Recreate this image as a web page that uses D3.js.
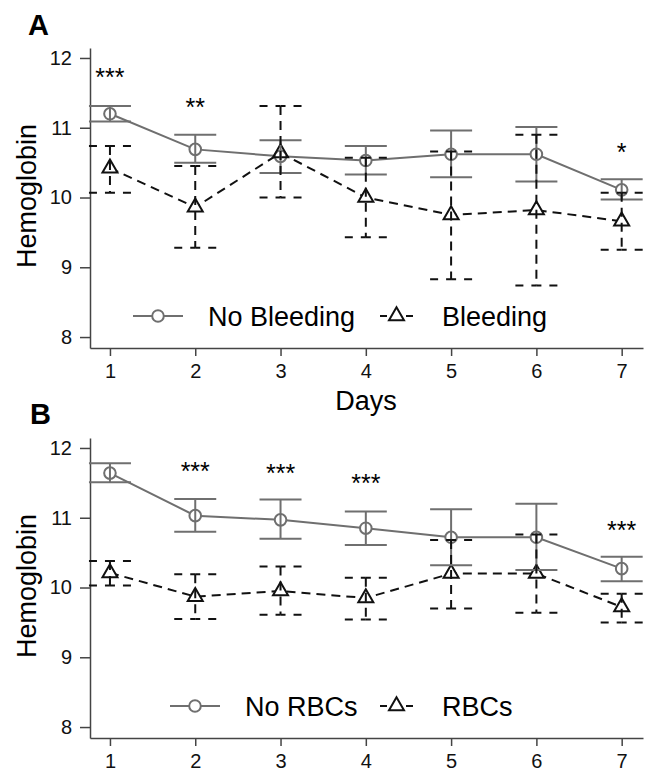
<!DOCTYPE html>
<html>
<head>
<meta charset="utf-8">
<script src="https://cdn.jsdelivr.net/npm/d3@7"></script>
<style>
  body { margin: 0; background: #fff; }
  text { font-family: "Liberation Sans", Arial, Helvetica, sans-serif; }
</style>
</head>
<body>
<svg></svg>
<script>
// values
const days = [1, 2, 3, 4, 5, 6, 7];
const yTicks = [8, 9, 10, 11, 12];

// panel A
const noBleedMean = [11.20, 10.69, 10.59, 10.53, 10.62, 10.62, 10.11];
const noBleedLo   = [11.09, 10.50, 10.35, 10.33, 10.29, 10.23, 9.97];
const noBleedHi   = [11.31, 10.90, 10.82, 10.74, 10.96, 11.01, 10.26];
const bleedMean   = [10.42, 9.86, 10.64, 10.00, 9.75, 9.82, 9.66];
const bleedLo     = [10.07, 9.28, 10.00, 9.43, 8.83, 8.74, 9.25];
const bleedHi     = [10.74, 10.45, 11.31, 10.57, 10.66, 10.90, 10.07];
const sigA        = ["***", "**", "", "", "", "", "*"];
const sigAy       = [11.80, 11.38, null, null, null, null, 10.73];

// panel B
const noRbcMean = [11.64, 11.03, 10.97, 10.85, 10.72, 10.72, 10.27];
const noRbcLo   = [11.51, 10.80, 10.70, 10.61, 10.32, 10.25, 10.09];
const noRbcHi   = [11.78, 11.27, 11.26, 11.09, 11.12, 11.20, 10.44];
const rbcMean   = [10.21, 9.87, 9.95, 9.85, 10.20, 10.20, 9.72];
const rbcLo     = [10.03, 9.55, 9.61, 9.54, 9.70, 9.64, 9.50];
const rbcHi     = [10.38, 10.19, 10.30, 10.14, 10.68, 10.76, 9.91];
const sigB      = ["", "***", "***", "***", "", "", "***"];
const sigBy     = [null, 11.75, 11.72, 11.57, null, null, 10.91];

function main() {
    const width = 647;
    const height = 772;
    const gray = "#6f6f6f";
    const black = "#111";
    const plotH = 300;
    const capW = 21;

    const svg = d3.select("svg")
        .attr("width", width)
        .attr("height", height);

    const x = d3.scaleLinear().domain([0.766, 7.25]).range([90, 643]);

    function triPath(cx, cy) {
        return `M${cx},${cy - 8.7}L${cx + 7.5},${cy + 4.3}L${cx - 7.5},${cy + 4.3}Z`;
    }

    const panels = [
        {
            letter: "A", letterX: 28, letterY: 35, top: 48,
            s1: {mean: noBleedMean, lo: noBleedLo, hi: noBleedHi, name: "No Bleeding"},
            s2: {mean: bleedMean, lo: bleedLo, hi: bleedHi, name: "Bleeding"},
            sig: sigA, sigY: sigAy, key1: 133, title: true
        },
        {
            letter: "B", letterX: 30, letterY: 424, top: 438,
            s1: {mean: noRbcMean, lo: noRbcLo, hi: noRbcHi, name: "No RBCs"},
            s2: {mean: rbcMean, lo: rbcLo, hi: rbcHi, name: "RBCs"},
            sig: sigB, sigY: sigBy, key1: 170, title: false
        }
    ];

    panels.forEach(p => {
        const y = d3.scaleLinear().domain([7.843, 12.143]).range([p.top + plotH, p.top]);
        const g = svg.append("g");

        // axes
        const yAxis = g.append("g")
            .attr("transform", "translate(90,0)")
            .call(d3.axisLeft(y).tickValues(yTicks).tickFormat(d3.format("d"))
                .tickSize(10).tickSizeOuter(0).tickPadding(8));
        const xAxis = g.append("g")
            .attr("transform", `translate(0,${p.top + plotH})`)
            .call(d3.axisBottom(x).tickValues(days).tickFormat(d3.format("d"))
                .tickSize(8).tickSizeOuter(0).tickPadding(8));
        [yAxis, xAxis].forEach(a => {
            a.selectAll("path, line").attr("stroke", "#444").attr("stroke-width", 1.5);
            a.selectAll("text").attr("font-size", 20).attr("fill", "#111");
        });

        // panel letter
        g.append("text")
            .attr("x", p.letterX).attr("y", p.letterY)
            .attr("font-size", 29).attr("font-weight", "bold")
            .text(p.letter);

        // y label
        g.append("text")
            .attr("transform", `translate(36,${p.top + 148}) rotate(-90)`)
            .attr("text-anchor", "middle")
            .attr("font-size", 27)
            .text("Hemoglobin");

        if (p.title) {
            g.append("text")
                .attr("x", 366).attr("y", p.top + 362)
                .attr("text-anchor", "middle")
                .attr("font-size", 27)
                .text("Days");
        }

        const line = d3.line().x((d, i) => x(days[i])).y(d => y(d));

        // connecting lines
        g.append("path").datum(p.s1.mean)
            .attr("d", line).attr("fill", "none")
            .attr("stroke", gray).attr("stroke-width", 2);
        g.append("path").datum(p.s2.mean)
            .attr("d", line).attr("fill", "none")
            .attr("stroke", black).attr("stroke-width", 2)
            .attr("stroke-dasharray", "9,6");

        // marker backgrounds, then outlines
        g.selectAll(null).data(p.s1.mean).enter().append("circle")
            .attr("cx", (d, i) => x(days[i])).attr("cy", d => y(d))
            .attr("r", 5.8).attr("fill", "#fff");
        g.selectAll(null).data(p.s2.mean).enter().append("path")
            .attr("d", (d, i) => triPath(x(days[i]), y(d)))
            .attr("fill", "#fff");
        g.selectAll(null).data(p.s1.mean).enter().append("circle")
            .attr("cx", (d, i) => x(days[i])).attr("cy", d => y(d))
            .attr("r", 5.8).attr("fill", "none")
            .attr("stroke", gray).attr("stroke-width", 2);
        g.selectAll(null).data(p.s2.mean).enter().append("path")
            .attr("d", (d, i) => triPath(x(days[i]), y(d)))
            .attr("fill", "none")
            .attr("stroke", black).attr("stroke-width", 2);

        // error bars, solid gray
        days.forEach((day, i) => {
            const cx = x(day);
            g.append("line")
                .attr("x1", cx).attr("x2", cx)
                .attr("y1", y(p.s1.hi[i])).attr("y2", y(p.s1.lo[i]))
                .attr("stroke", gray).attr("stroke-width", 2);
            [p.s1.hi[i], p.s1.lo[i]].forEach(v => {
                g.append("line")
                    .attr("x1", cx - capW).attr("x2", cx + capW)
                    .attr("y1", y(v)).attr("y2", y(v))
                    .attr("stroke", gray).attr("stroke-width", 2);
            });
        });

        // error bars, dashed black
        days.forEach((day, i) => {
            const cx = x(day);
            g.append("line")
                .attr("x1", cx).attr("x2", cx)
                .attr("y1", y(p.s2.hi[i])).attr("y2", y(p.s2.lo[i]))
                .attr("stroke", black).attr("stroke-width", 2)
                .attr("stroke-dasharray", "9,6");
            [p.s2.hi[i], p.s2.lo[i]].forEach(v => {
                [-1, 1].forEach(side => {
                    g.append("line")
                        .attr("x1", cx).attr("x2", cx + side * capW)
                        .attr("y1", y(v)).attr("y2", y(v))
                        .attr("stroke", black).attr("stroke-width", 2)
                        .attr("stroke-dasharray", "5,8,8,30");
                });
            });
        });

        // significance stars
        p.sig.forEach((s, i) => {
            if (!s) return;
            g.append("text")
                .attr("x", x(days[i])).attr("y", y(p.sigY[i]))
                .attr("dy", "0.58em")
                .attr("text-anchor", "middle")
                .attr("font-size", 25)
                .text(s);
        });

        // legend
        const ly = p.top + 268;
        const lt = p.top + 278;
        g.append("line")
            .attr("x1", p.key1).attr("x2", p.key1 + 50)
            .attr("y1", ly).attr("y2", ly)
            .attr("stroke", gray).attr("stroke-width", 2);
        g.append("circle")
            .attr("cx", p.key1 + 25).attr("cy", ly).attr("r", 5.8)
            .attr("fill", "#fff").attr("stroke", gray).attr("stroke-width", 2);
        g.append("text")
            .attr("x", p.key1 + 75).attr("y", lt)
            .attr("font-size", 27)
            .text(p.s1.name);

        g.append("line")
            .attr("x1", 380).attr("x2", 414)
            .attr("y1", ly).attr("y2", ly)
            .attr("stroke", black).attr("stroke-width", 2)
            .attr("stroke-dasharray", "7,6");
        g.append("path")
            .attr("d", triPath(396.5, ly))
            .attr("fill", "#fff").attr("stroke", black).attr("stroke-width", 2);
        g.append("text")
            .attr("x", 442).attr("y", lt)
            .attr("font-size", 27)
            .text(p.s2.name);
    });
}

main();
</script>
</body>
</html>
